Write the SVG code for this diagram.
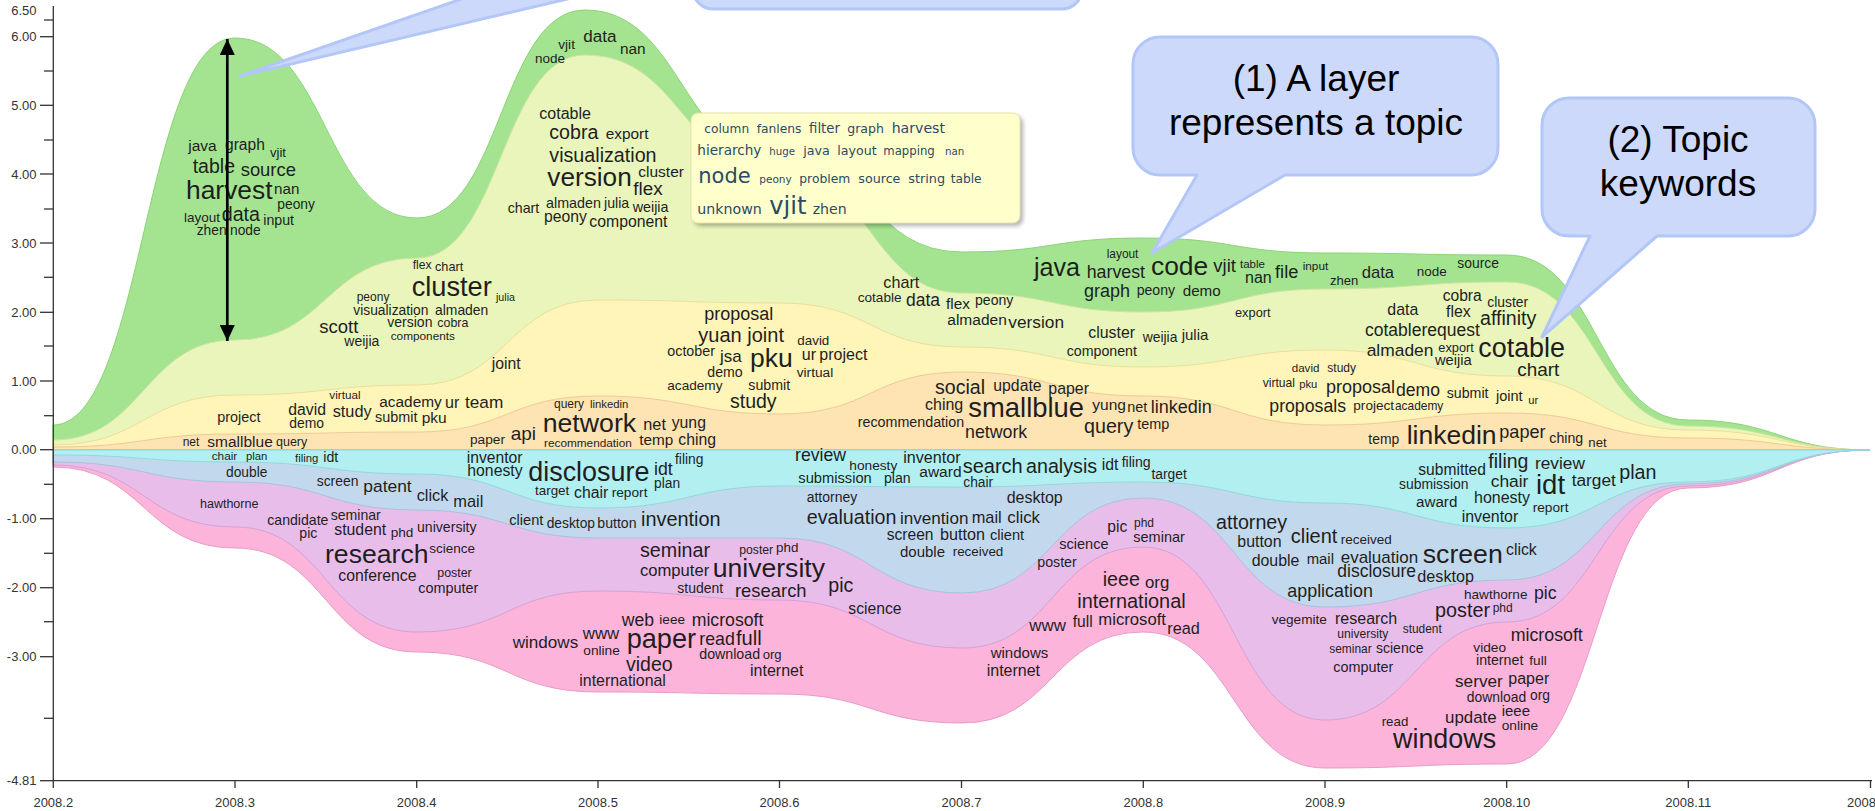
<svg xmlns="http://www.w3.org/2000/svg" width="1875" height="811" viewBox="0 0 1875 811">
<style>
.w{font-family:"Liberation Sans",Arial,sans-serif;fill:#1e1e1e}
.t{font-family:"DejaVu Sans",Verdana,sans-serif;fill:#2b4a66}
.ax{font-family:"Liberation Sans",Arial,sans-serif;fill:#333;font-size:13px}
.tick{stroke:#333;stroke-width:1.3}
.call{fill:#ccd9fb;stroke:#b3c6f8;stroke-width:3;stroke-linejoin:round}
.ctext{font-family:"Liberation Sans",Arial,sans-serif;font-size:37px;fill:#000;text-anchor:middle}
</style>
<defs>
<marker id="ah" viewBox="0 0 16 15" refX="16" refY="7.5" markerWidth="16" markerHeight="15" markerUnits="userSpaceOnUse" orient="auto-start-reverse">
<path d="M0,0 L16,7.5 L0,15 Z" fill="#000"/>
</marker>
<filter id="shadow" x="-10%" y="-10%" width="130%" height="140%">
<feGaussianBlur stdDeviation="2"/>
</filter>
</defs>
<rect width="1875" height="811" fill="#fff"/>

<!-- stacked topic layers -->
<g id="layers" stroke-width="1">
<path id="layer-green" fill="#a4e490" stroke="#8cd477" d="M53,425 C144,425 144,38 235,38 C326,38 326,218 417,218 C501,218 501,10 585,10 C682.5,10 682.5,160 780,160 C871,160 871,252 962,252 C1052.5,252 1052.5,238 1143,238 C1234,238 1234,253 1325,253 C1416,253 1416,255 1507,255 C1597.5,255 1597.5,420 1688,420 C1779,420 1779,450 1870,450 L53,450 Z"/>
<path id="layer-yg" fill="#e9f5bb" stroke="#cfe3a0" d="M53,440 C144,440 144,340 235,340 C326,340 326,258 417,258 C501,258 501,55 585,55 C682.5,55 682.5,172 780,172 C871,172 871,293 962,293 C1052.5,293 1052.5,312 1143,312 C1234,312 1234,289 1325,289 C1416,289 1416,282 1507,282 C1597.5,282 1597.5,426 1688,426 C1779,426 1779,450 1870,450 L53,450 Z"/>
<path id="layer-yellow" fill="#fff5b8" stroke="#eadf9c" d="M53,445 C144,445 144,395 235,395 C326,395 326,385 417,385 C507.5,385 507.5,300 598,300 C689,300 689,303 780,303 C871,303 871,347 962,347 C1052.5,347 1052.5,367 1143,367 C1234,367 1234,350 1325,350 C1416,350 1416,376 1507,376 C1597.5,376 1597.5,430 1688,430 C1779,430 1779,450 1870,450 L53,450 Z"/>
<path id="layer-peach" fill="#fee3b3" stroke="#eccb98" d="M53,447 C144,447 144,434 235,434 C326,434 326,432 417,432 C507.5,432 507.5,396 598,396 C689,396 689,414 780,414 C871,414 871,372 962,372 C1052.5,372 1052.5,396 1143,396 C1234,396 1234,425 1325,425 C1416,425 1416,413 1507,413 C1597.5,413 1597.5,438 1688,438 C1779,438 1779,450 1870,450 L53,450 Z"/>
<path id="layer-pink" fill="#fcb4da" stroke="#e89cc4" d="M53,467 C144,467 144,548 235,548 C326,548 326,652 417,652 C507.5,652 507.5,692 598,692 C689,692 689,694 780,694 C871,694 871,723 962,723 C1052.5,723 1052.5,632 1143,632 C1234,632 1234,768 1325,768 C1416,768 1416,764 1507,764 C1597.5,764 1597.5,488 1688,488 C1779,488 1779,450 1870,450 L53,450 Z"/>
<path id="layer-purple" fill="#e9bdea" stroke="#d2a3d6" d="M53,465 C144,465 144,527 235,527 C326,527 326,632 417,632 C507.5,632 507.5,591 598,591 C689,591 689,600 780,600 C871,600 871,648 962,648 C1052.5,648 1052.5,547 1143,547 C1234,547 1234,720 1325,720 C1416,720 1416,622 1507,622 C1597.5,622 1597.5,486 1688,486 C1779,486 1779,450 1870,450 L53,450 Z"/>
<path id="layer-blue" fill="#c2d9ed" stroke="#a9c2dc" d="M53,462 C144,462 144,482 235,482 C326,482 326,510 417,510 C507.5,510 507.5,538 598,538 C689,538 689,538 780,538 C871,538 871,593 962,593 C1052.5,593 1052.5,498 1143,498 C1234,498 1234,607 1325,607 C1416,607 1416,580 1507,580 C1597.5,580 1597.5,484 1688,484 C1779,484 1779,450 1870,450 L53,450 Z"/>
<path id="layer-cyan" fill="#b1eff0" stroke="#94d8dc" d="M53,455 C144,455 144,462 235,462 C326,462 326,474 417,474 C507.5,474 507.5,508 598,508 C689,508 689,486 780,486 C871,486 871,487 962,487 C1052.5,487 1052.5,482 1143,482 C1234,482 1234,503 1325,503 C1416,503 1416,528 1507,528 C1597.5,528 1597.5,482 1688,482 C1779,482 1779,450 1870,450 L53,450 Z"/>
</g>

<!-- topic keywords -->
<g id="topic-green" class="w">
<text x="188.3" y="150.7" font-size="15.5">java</text>
<text x="225" y="150" font-size="15.6">graph</text>
<text x="270" y="156.7" font-size="13.1">vjit</text>
<text x="192.7" y="173.3" font-size="19.5">table</text>
<text x="240.7" y="175.7" font-size="18.4">source</text>
<text x="186" y="199.3" font-size="26.4">harvest</text>
<text x="274" y="194.3" font-size="15.2">nan</text>
<text x="277.3" y="209.3" font-size="13.8">peony</text>
<text x="184" y="221.7" font-size="13.5">layout</text>
<text x="221.7" y="220.7" font-size="19.7">data</text>
<text x="263.3" y="225" font-size="14.2">input</text>
<text x="196.7" y="235.3" font-size="13.8">zhen</text>
<text x="230" y="235.3" font-size="13.8">node</text>
<text x="535" y="62.7" font-size="13.5">node</text>
<text x="558.3" y="49.3" font-size="13.6">vjit</text>
<text x="583.3" y="42.3" font-size="17.1">data</text>
<text x="620" y="54" font-size="15.4">nan</text>
<text x="1034" y="276" font-size="25.1">java</text>
<text x="1106.7" y="258.3" font-size="11.9">layout</text>
<text x="1086.7" y="278.3" font-size="17.8">harvest</text>
<text x="1151" y="275" font-size="26.4">code</text>
<text x="1213.3" y="271.7" font-size="18.6">vjit</text>
<text x="1240" y="268.3" font-size="11.5">table</text>
<text x="1245" y="282.7" font-size="16">nan</text>
<text x="1275" y="278.3" font-size="18.3">file</text>
<text x="1302.7" y="270" font-size="11.8">input</text>
<text x="1330" y="285" font-size="13.1">zhen</text>
<text x="1361.7" y="277.7" font-size="16.6">data</text>
<text x="1416.7" y="276" font-size="13.5">node</text>
<text x="1457.3" y="268.3" font-size="13.9">source</text>
<text x="1084" y="296.7" font-size="18">graph</text>
<text x="1136.7" y="295" font-size="14.1">peony</text>
<text x="1182.7" y="296" font-size="15.2">demo</text>
</g>

<g id="topic-yellowgreen" class="w">
<text x="412.7" y="269.3" font-size="12.2">flex</text>
<text x="435" y="270.7" font-size="12.7">chart</text>
<text x="411.7" y="296" font-size="27.2">cluster</text>
<text x="496" y="300.7" font-size="10.7">julia</text>
<text x="356.7" y="300.7" font-size="12">peony</text>
<text x="353.3" y="315" font-size="13.8">visualization</text>
<text x="435" y="315" font-size="13.9">almaden</text>
<text x="387.3" y="327.3" font-size="14">version</text>
<text x="437.3" y="327.3" font-size="12.4">cobra</text>
<text x="319.3" y="332.7" font-size="18.5">scott</text>
<text x="344.3" y="346" font-size="14">weijia</text>
<text x="390.7" y="340" font-size="11.8">components</text>
<text x="539.3" y="119.3" font-size="16">cotable</text>
<text x="549.3" y="139.3" font-size="19.6">cobra</text>
<text x="605.7" y="139.3" font-size="15.4">export</text>
<text x="549.3" y="161.7" font-size="19.7">visualization</text>
<text x="547.3" y="186" font-size="26.2">version</text>
<text x="638.3" y="176.7" font-size="15.5">cluster</text>
<text x="633.3" y="195" font-size="18.8">flex</text>
<text x="507.7" y="213.3" font-size="14.2">chart</text>
<text x="546" y="208.3" font-size="14.3">almaden</text>
<text x="604" y="208.3" font-size="14.2">julia</text>
<text x="632.7" y="211.7" font-size="14.3">weijia</text>
<text x="544" y="221.7" font-size="15.7">peony</text>
<text x="589.3" y="226.7" font-size="15.8">component</text>
<text x="883.3" y="288.3" font-size="16.2">chart</text>
<text x="857.7" y="301.7" font-size="13.6">cotable</text>
<text x="906" y="306" font-size="17.5">data</text>
<text x="946" y="309.3" font-size="15.4">flex</text>
<text x="975" y="305" font-size="14.1">peony</text>
<text x="947.3" y="325" font-size="15.5">almaden</text>
<text x="1008.3" y="328.3" font-size="17.3">version</text>
<text x="1235" y="316.7" font-size="12.8">export</text>
<text x="1088.3" y="338.3" font-size="15.9">cluster</text>
<text x="1142.7" y="341.7" font-size="13.9">weijia</text>
<text x="1181.7" y="340" font-size="15">julia</text>
<text x="1066.7" y="356" font-size="14.2">component</text>
<text x="1387.3" y="315" font-size="15.9">data</text>
<text x="1442.7" y="300.7" font-size="15.6">cobra</text>
<text x="1487.3" y="306.7" font-size="13.9">cluster</text>
<text x="1446" y="317.3" font-size="15.9">flex</text>
<text x="1480" y="325" font-size="19.6">affinity</text>
<text x="1365" y="335.5" font-size="17.5">cotable</text>
<text x="1421.4" y="335.5" font-size="17.5">request</text>
<text x="1366.7" y="356" font-size="17.4">almaden</text>
<text x="1438.3" y="351.7" font-size="12.8">export</text>
<text x="1435" y="365" font-size="14.7">weijia</text>
<text x="1478.3" y="357.3" font-size="26.9">cotable</text>
<text x="1517.3" y="376" font-size="18.9">chart</text>
</g>

<g id="topic-yellow" class="w">
<text x="217.3" y="421.7" font-size="14.4">project</text>
<text x="288.3" y="415" font-size="15.8">david</text>
<text x="289.3" y="428.3" font-size="13.9">demo</text>
<text x="329.3" y="399.3" font-size="11.7">virtual</text>
<text x="332.7" y="416.7" font-size="16.3">study</text>
<text x="379.3" y="406.7" font-size="15.4">academy</text>
<text x="375" y="421.7" font-size="14.4">submit</text>
<text x="421.7" y="423.3" font-size="15.5">pku</text>
<text x="445" y="407.7" font-size="16.1">ur</text>
<text x="465" y="408.3" font-size="17.2">team</text>
<text x="491.7" y="369.3" font-size="15.8">joint</text>
<text x="704.3" y="320" font-size="18">proposal</text>
<text x="698.3" y="341.7" font-size="20">yuan</text>
<text x="747.3" y="341.7" font-size="20">joint</text>
<text x="797.3" y="345" font-size="13.4">david</text>
<text x="667.3" y="356" font-size="14.3">october</text>
<text x="720" y="361.7" font-size="17">jsa</text>
<text x="750" y="366.7" font-size="26.5">pku</text>
<text x="801.7" y="360" font-size="16.1">ur</text>
<text x="819.3" y="360" font-size="16">project</text>
<text x="707.3" y="377.3" font-size="14.1">demo</text>
<text x="796.7" y="377.3" font-size="13.7">virtual</text>
<text x="667.3" y="390" font-size="13.6">academy</text>
<text x="748.3" y="390" font-size="14.2">submit</text>
<text x="730" y="407.7" font-size="19.5">study</text>
<text x="1291.7" y="371.7" font-size="11.6">david</text>
<text x="1327.3" y="371.7" font-size="12">study</text>
<text x="1262.7" y="386.7" font-size="12.1">virtual</text>
<text x="1299.3" y="388.3" font-size="11.2">pku</text>
<text x="1326" y="393.3" font-size="18">proposal</text>
<text x="1396" y="396" font-size="17.6">demo</text>
<text x="1269.3" y="411.7" font-size="17.7">proposals</text>
<text x="1353.3" y="410" font-size="13.6">project</text>
<text x="1395" y="410" font-size="11.9">academy</text>
<text x="1446.7" y="398.3" font-size="14.2">submit</text>
<text x="1496" y="400.7" font-size="14.5">joint</text>
<text x="1528.3" y="404" font-size="11.2">ur</text>
</g>

<g id="topic-peach" class="w">
<text x="182.7" y="445.7" font-size="12">net</text>
<text x="207.3" y="446.7" font-size="15.5">smallblue</text>
<text x="276" y="445.7" font-size="12.5">query</text>
<text x="554" y="408.3" font-size="12">query</text>
<text x="590" y="408.3" font-size="11.3">linkedin</text>
<text x="542.7" y="432.3" font-size="26.7">network</text>
<text x="643.3" y="430" font-size="16.3">net</text>
<text x="671.7" y="428.3" font-size="15.8">yung</text>
<text x="470" y="444" font-size="13.7">paper</text>
<text x="510.7" y="440" font-size="19">api</text>
<text x="544" y="446.7" font-size="11.8">recommendation</text>
<text x="639.3" y="445" font-size="15.3">temp</text>
<text x="678.3" y="445" font-size="15.8">ching</text>
<text x="857.7" y="426.7" font-size="14.3">recommendation</text>
<text x="935" y="394" font-size="19.6">social</text>
<text x="993.3" y="390.7" font-size="15.8">update</text>
<text x="1048.3" y="394" font-size="15.9">paper</text>
<text x="925" y="410" font-size="16">ching</text>
<text x="968.3" y="416.7" font-size="27.4">smallblue</text>
<text x="1092.3" y="410" font-size="15.5">yung</text>
<text x="1127.3" y="411.7" font-size="14.4">net</text>
<text x="1150.7" y="412.7" font-size="18">linkedin</text>
<text x="965" y="438.3" font-size="17.8">network</text>
<text x="1084" y="432.7" font-size="19.7">query</text>
<text x="1137.3" y="429.3" font-size="14.4">temp</text>
<text x="1368.3" y="444" font-size="13.9">temp</text>
<text x="1406.7" y="444" font-size="26.5">linkedin</text>
<text x="1499.3" y="438.3" font-size="18.1">paper</text>
<text x="1549.3" y="443.3" font-size="14.2">ching</text>
<text x="1588.3" y="446.7" font-size="13.2">net</text>
</g>

<g id="topic-cyan" class="w">
<text x="211.7" y="460" font-size="11.8">chair</text>
<text x="246" y="460" font-size="11.3">plan</text>
<text x="295" y="462.3" font-size="11.3">filing</text>
<text x="323.3" y="462.3" font-size="14.2">idt</text>
<text x="466.7" y="463.3" font-size="15.7">inventor</text>
<text x="467.3" y="476" font-size="15.8">honesty</text>
<text x="528.3" y="480.7" font-size="26.9">disclosure</text>
<text x="654" y="475" font-size="17.7">idt</text>
<text x="675" y="464" font-size="13.8">filing</text>
<text x="654" y="488.3" font-size="13.8">plan</text>
<text x="535" y="495" font-size="13.4">target</text>
<text x="574" y="498.3" font-size="15.8">chair</text>
<text x="611.7" y="496.7" font-size="13.7">report</text>
<text x="795" y="460.7" font-size="17.7">review</text>
<text x="849.3" y="470" font-size="13.7">honesty</text>
<text x="903.3" y="462.7" font-size="16.1">inventor</text>
<text x="798.3" y="483.3" font-size="14.7">submission</text>
<text x="884" y="483.3" font-size="14.1">plan</text>
<text x="919.3" y="476.7" font-size="15.5">award</text>
<text x="962.7" y="472.7" font-size="20">search</text>
<text x="1026" y="472.7" font-size="19.7">analysis</text>
<text x="1101.7" y="470" font-size="15.8">idt</text>
<text x="1121.7" y="466.7" font-size="14.1">filing</text>
<text x="963.3" y="487.3" font-size="13.8">chair</text>
<text x="1151.5" y="479.3" font-size="13.8">target</text>
<text x="1418.3" y="475" font-size="15.6">submitted</text>
<text x="1488.3" y="468.3" font-size="19.5">filing</text>
<text x="1535" y="469.3" font-size="17.3">review</text>
<text x="1399" y="489.3" font-size="13.9">submission</text>
<text x="1490.7" y="487.3" font-size="17.4">chair</text>
<text x="1536" y="494" font-size="27.5">idt</text>
<text x="1571.7" y="486" font-size="17.3">target</text>
<text x="1619.3" y="479.3" font-size="19.7">plan</text>
<text x="1416" y="507.3" font-size="15.2">award</text>
<text x="1474" y="503.3" font-size="16">honesty</text>
<text x="1532.7" y="511.7" font-size="13.7">report</text>
<text x="1461.7" y="521.7" font-size="15.9">inventor</text>
</g>

<g id="topic-blue" class="w">
<text x="226" y="476.7" font-size="13.8">double</text>
<text x="316.7" y="486" font-size="13.9">screen</text>
<text x="363.3" y="491.7" font-size="17.4">patent</text>
<text x="416.7" y="500.7" font-size="16.3">click</text>
<text x="453.3" y="507.3" font-size="16.4">mail</text>
<text x="509.3" y="525" font-size="14.6">client</text>
<text x="546.7" y="528.3" font-size="13.8">desktop</text>
<text x="597.3" y="528.3" font-size="14.1">button</text>
<text x="641" y="526" font-size="19.9">invention</text>
<text x="806.7" y="501.7" font-size="14">attorney</text>
<text x="806.7" y="524" font-size="19.7">evaluation</text>
<text x="900" y="524" font-size="17.1">invention</text>
<text x="886.7" y="540" font-size="15.6">screen</text>
<text x="900" y="557.3" font-size="15">double</text>
<text x="952.7" y="556" font-size="13.4">received</text>
<text x="1006.7" y="503.3" font-size="16">desktop</text>
<text x="971.7" y="523.3" font-size="16.4">mail</text>
<text x="1007.3" y="522.7" font-size="16.8">click</text>
<text x="940" y="540" font-size="16.2">button</text>
<text x="990" y="540" font-size="14.6">client</text>
<text x="1216" y="529.3" font-size="19.7">attorney</text>
<text x="1237.3" y="547.3" font-size="15.9">button</text>
<text x="1290.7" y="543.3" font-size="20">client</text>
<text x="1340.7" y="544" font-size="13.5">received</text>
<text x="1251.7" y="566" font-size="15.9">double</text>
<text x="1306.7" y="564" font-size="14.9">mail</text>
<text x="1340.7" y="562.7" font-size="17">evaluation</text>
<text x="1337.3" y="577.3" font-size="17.5">disclosure</text>
<text x="1287.3" y="596.7" font-size="17.9">application</text>
<text x="1422.7" y="563.3" font-size="26.7">screen</text>
<text x="1506" y="555" font-size="15.8">click</text>
<text x="1417.3" y="581.7" font-size="16.2">desktop</text>
</g>

<g id="topic-purple" class="w">
<text x="200" y="508.3" font-size="12.5">hawthorne</text>
<text x="267.3" y="525" font-size="14.1">candidate</text>
<text x="330.7" y="520" font-size="14.1">seminar</text>
<text x="299.3" y="538.3" font-size="14.1">pic</text>
<text x="334.3" y="535" font-size="15.8">student</text>
<text x="390.7" y="536.7" font-size="13.6">phd</text>
<text x="417" y="531.7" font-size="14.1">university</text>
<text x="325" y="562.7" font-size="26.6">research</text>
<text x="429.3" y="553.3" font-size="13.5">science</text>
<text x="338.3" y="580.7" font-size="15.8">conference</text>
<text x="437.3" y="576.7" font-size="12.4">poster</text>
<text x="418.3" y="592.7" font-size="14.4">computer</text>
<text x="640" y="556.7" font-size="19.7">seminar</text>
<text x="739.3" y="554" font-size="12.2">poster</text>
<text x="776" y="551.7" font-size="13.4">phd</text>
<text x="640" y="576" font-size="16.6">computer</text>
<text x="712.7" y="577.3" font-size="26.6">university</text>
<text x="677.3" y="593.3" font-size="14">student</text>
<text x="735" y="596.7" font-size="18.4">research</text>
<text x="828.3" y="591.7" font-size="19.6">pic</text>
<text x="848.3" y="614" font-size="15.7">science</text>
<text x="1107.3" y="531.7" font-size="15.6">pic</text>
<text x="1134" y="527.3" font-size="12">phd</text>
<text x="1133.3" y="541.7" font-size="14.5">seminar</text>
<text x="1059.3" y="549" font-size="14.5">science</text>
<text x="1037.3" y="567.3" font-size="14.2">poster</text>
<text x="1271.7" y="624" font-size="13.6">vegemite</text>
<text x="1335" y="624" font-size="16">research</text>
<text x="1337.3" y="638.3" font-size="12.1">university</text>
<text x="1402.7" y="632.7" font-size="11.9">student</text>
<text x="1329.3" y="653.3" font-size="11.9">seminar</text>
<text x="1376" y="652.7" font-size="14">science</text>
<text x="1333.3" y="671.7" font-size="14.4">computer</text>
<text x="1464" y="599.3" font-size="13.6">hawthorne</text>
<text x="1534" y="599.3" font-size="17.7">pic</text>
<text x="1435" y="617.3" font-size="19.8">poster</text>
<text x="1492.7" y="611.7" font-size="12">phd</text>
</g>

<g id="topic-pink" class="w">
<text x="621.7" y="626" font-size="17.6">web</text>
<text x="659.3" y="624" font-size="13.6">ieee</text>
<text x="691.7" y="626" font-size="17.7">microsoft</text>
<text x="512.7" y="648.3" font-size="17.1">windows</text>
<text x="582.7" y="639.3" font-size="16.9">www</text>
<text x="583.3" y="655" font-size="13.7">online</text>
<text x="626.7" y="648.3" font-size="27.1">paper</text>
<text x="699.3" y="645" font-size="17.8">read</text>
<text x="736" y="645" font-size="20.1">full</text>
<text x="699.3" y="659.3" font-size="14.2">download</text>
<text x="762.7" y="659.3" font-size="13.1">org</text>
<text x="626" y="670.7" font-size="19.5">video</text>
<text x="579.3" y="686" font-size="15.9">international</text>
<text x="750" y="676" font-size="16">internet</text>
<text x="1102.7" y="586" font-size="19.7">ieee</text>
<text x="1145" y="588.3" font-size="16.8">org</text>
<text x="1077.3" y="608.3" font-size="19.9">international</text>
<text x="1029.3" y="630.7" font-size="16.9">www</text>
<text x="1072.7" y="627.3" font-size="15.6">full</text>
<text x="1098.3" y="625" font-size="16.7">microsoft</text>
<text x="1167.3" y="634" font-size="16.3">read</text>
<text x="990.7" y="658.3" font-size="15">windows</text>
<text x="986.7" y="676" font-size="16">internet</text>
<text x="1381.7" y="726" font-size="13.3">read</text>
<text x="1393" y="748.3" font-size="26.9">windows</text>
<text x="1510.7" y="640.7" font-size="17.8">microsoft</text>
<text x="1473.3" y="651.7" font-size="13.7">video</text>
<text x="1476" y="665" font-size="14.2">internet</text>
<text x="1529.3" y="665" font-size="13.6">full</text>
<text x="1455" y="686.7" font-size="17.2">server</text>
<text x="1508.3" y="684" font-size="16">paper</text>
<text x="1466.7" y="701.7" font-size="13.9">download</text>
<text x="1530" y="700" font-size="13.8">org</text>
<text x="1445" y="723.3" font-size="16.9">update</text>
<text x="1501.7" y="716" font-size="15">ieee</text>
<text x="1501.7" y="730" font-size="13.7">online</text>
</g>

<!-- axes -->
<g id="axes">
<line class="tick" x1="53.3" y1="6" x2="53.3" y2="781"/>
<line class="tick" x1="53.3" y1="780.7" x2="1872" y2="780.7"/>
<g class="tick">
<line x1="40" y1="36.7" x2="53" y2="36.7"/><line x1="40" y1="105.3" x2="53" y2="105.3"/>
<line x1="40" y1="174" x2="53" y2="174"/><line x1="40" y1="243" x2="53" y2="243"/>
<line x1="40" y1="312.3" x2="53" y2="312.3"/><line x1="40" y1="381" x2="53" y2="381"/>
<line x1="40" y1="449.7" x2="53" y2="449.7"/><line x1="40" y1="518.7" x2="53" y2="518.7"/>
<line x1="40" y1="587.7" x2="53" y2="587.7"/><line x1="40" y1="656.7" x2="53" y2="656.7"/>
<line x1="40" y1="780.7" x2="53" y2="780.7"/>
<line x1="44" y1="20" x2="53" y2="20"/><line x1="44" y1="71" x2="53" y2="71"/>
<line x1="44" y1="140" x2="53" y2="140"/><line x1="44" y1="209" x2="53" y2="209"/>
<line x1="44" y1="277.3" x2="53" y2="277.3"/><line x1="44" y1="346" x2="53" y2="346"/>
<line x1="44" y1="415.7" x2="53" y2="415.7"/><line x1="44" y1="484.3" x2="53" y2="484.3"/>
<line x1="44" y1="553.3" x2="53" y2="553.3"/><line x1="44" y1="621.7" x2="53" y2="621.7"/>
<line x1="44" y1="718.3" x2="53" y2="718.3"/>
<line x1="53.3" y1="780.7" x2="53.3" y2="788"/><line x1="235" y1="780.7" x2="235" y2="788"/>
<line x1="416.7" y1="780.7" x2="416.7" y2="788"/><line x1="598" y1="780.7" x2="598" y2="788"/>
<line x1="779.5" y1="780.7" x2="779.5" y2="788"/><line x1="961.5" y1="780.7" x2="961.5" y2="788"/>
<line x1="1143.3" y1="780.7" x2="1143.3" y2="788"/><line x1="1325" y1="780.7" x2="1325" y2="788"/>
<line x1="1506.7" y1="780.7" x2="1506.7" y2="788"/><line x1="1688.3" y1="780.7" x2="1688.3" y2="788"/>
<line x1="1870.5" y1="780.7" x2="1870.5" y2="788"/>
</g>
<g class="ax" text-anchor="end">
<text x="36.5" y="15">6.50</text><text x="36.5" y="41.2">6.00</text>
<text x="36.5" y="109.8">5.00</text><text x="36.5" y="178.5">4.00</text>
<text x="36.5" y="247.5">3.00</text><text x="36.5" y="316.8">2.00</text>
<text x="36.5" y="385.5">1.00</text><text x="36.5" y="454.2">0.00</text>
<text x="36.5" y="523.2">-1.00</text><text x="36.5" y="592.2">-2.00</text>
<text x="36.5" y="661.2">-3.00</text><text x="36.5" y="785.2">-4.81</text>
</g>
<g class="ax" text-anchor="middle" font-size="13.5">
<text x="53.3" y="807">2008.2</text><text x="235" y="807">2008.3</text>
<text x="416.7" y="807">2008.4</text><text x="598" y="807">2008.5</text>
<text x="779.5" y="807">2008.6</text><text x="961.5" y="807">2008.7</text>
<text x="1143.3" y="807">2008.8</text><text x="1325" y="807">2008.9</text>
<text x="1506.7" y="807">2008.10</text><text x="1688.3" y="807">2008.11</text>
<text x="1870.5" y="807">2008.12</text>
</g>
</g>

<!-- hover tooltip listing the keywords of one topic -->
<g id="tooltip">
<rect x="694" y="116" width="329" height="110" rx="7" fill="#000" opacity="0.3" filter="url(#shadow)"/>
<rect x="691" y="113" width="329" height="110" rx="7" fill="#ffffcc" stroke="#e4e4aa"/>
<g class="t">
<text x="704.3" y="133.3" font-size="12.2">column</text>
<text x="756.7" y="133.3" font-size="12.3">fanlens</text>
<text x="809" y="133.3" font-size="13.3">filter</text>
<text x="847.3" y="133.3" font-size="12.5">graph</text>
<text x="891.7" y="133.3" font-size="14.1">harvest</text>
<text x="697.3" y="155" font-size="13.6">hierarchy</text>
<text x="769.3" y="155" font-size="10.2">huge</text>
<text x="803.3" y="155" font-size="12.7">java</text>
<text x="837.3" y="155" font-size="12.6">layout</text>
<text x="883.3" y="155" font-size="11.7">mapping</text>
<text x="945" y="155" font-size="10.3">nan</text>
<text x="698.3" y="183.3" font-size="21">node</text>
<text x="759.3" y="183.3" font-size="10.5">peony</text>
<text x="799.3" y="183.3" font-size="12.3">problem</text>
<text x="858.3" y="183.3" font-size="12.7">source</text>
<text x="908.3" y="183.3" font-size="12.8">string</text>
<text x="950.7" y="183.3" font-size="12.2">table</text>
<text x="697.3" y="214.3" font-size="14.2">unknown</text>
<text x="769.3" y="214.3" font-size="24.2">vjit</text>
<text x="812.7" y="214.3" font-size="14.1">zhen</text>
</g>
</g>

<!-- annotation callouts -->
<g id="callout-top">
<path class="call" d="M470,-4 L240,76 L580,-4 Z"/>
<path class="call" d="M693,-40 V-11 A20 20 0 0 0 713,9 H1062 A20 20 0 0 0 1082,-11 V-40 Z"/>
</g>
<g id="callout-layer">
<path class="call" d="M1160,37 H1471 A27 27 0 0 1 1498,64 V148 A27 27 0 0 1 1471,175 H1285 L1152,253 L1197,175 H1160 A27 27 0 0 1 1133,148 V64 A27 27 0 0 1 1160,37 Z"/>
<text class="ctext" x="1316" y="90.7">(1) A layer</text>
<text class="ctext" x="1316" y="135">represents a topic</text>
</g>
<g id="callout-keywords">
<path class="call" d="M1569,98 H1788 A27 27 0 0 1 1815,125 V209 A27 27 0 0 1 1788,236 H1657 L1542,337 L1590,236 H1569 A27 27 0 0 1 1542,209 V125 A27 27 0 0 1 1569,98 Z"/>
<text class="ctext" x="1678" y="151.7">(2) Topic</text>
<text class="ctext" x="1678" y="196">keywords</text>
</g>

<!-- strength arrow across the first peak -->
<g id="connectors">
<line x1="227.3" y1="39" x2="227.3" y2="341" stroke="#000" stroke-width="2.7" marker-start="url(#ah)" marker-end="url(#ah)"/>
</g>
</svg>
